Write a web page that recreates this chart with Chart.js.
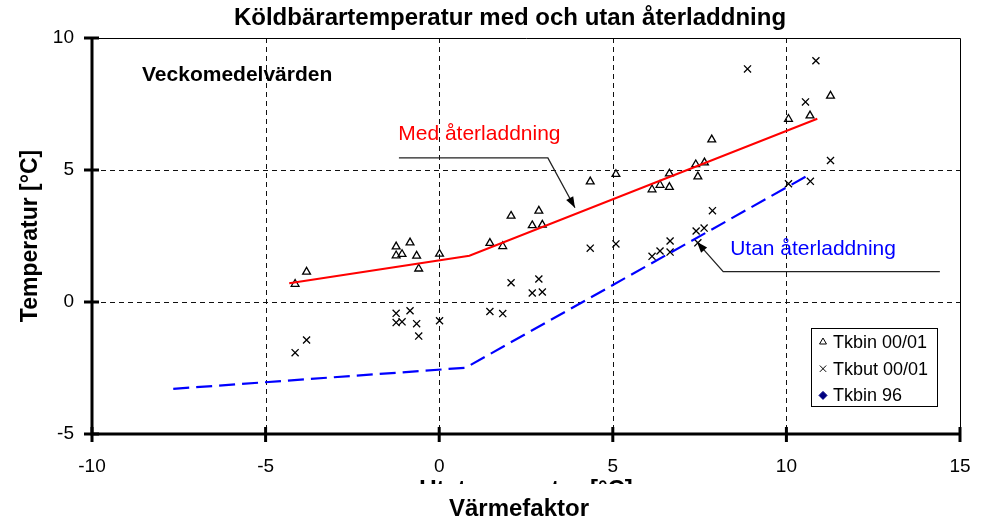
<!DOCTYPE html>
<html>
<head>
<meta charset="utf-8">
<script src="https://cdn.jsdelivr.net/npm/chart.js@4.4.0/dist/chart.umd.min.js"></script>
<style>
body { margin: 0; background: #fff; }
#wrap { width: 988px; height: 522px; }
</style>
</head>
<body>
<div id="wrap"><canvas id="myChart"></canvas></div>
<script>
// weekly means
const tkbinX = [-4.15, -3.82, -1.24, -1.24, -1.07, -0.84, -0.65, -0.59, 0.01, 1.46, 1.83, 2.07, 2.68, 2.87,
                2.97, 4.35, 5.09, 6.13, 6.36, 6.63, 6.63, 7.39, 7.45, 7.64, 7.85, 10.06, 10.68, 11.27];
const tkbinY = [0.68, 1.14, 2.10, 1.76, 1.81, 2.25, 1.75, 1.26, 1.82, 2.23, 2.11, 3.26, 2.90, 3.45,
                2.92, 4.56, 4.84, 4.26, 4.43, 4.86, 4.35, 5.21, 4.75, 5.28, 6.15, 6.93, 7.06, 7.81];
const tkbutX = [-4.15, -3.82, -1.24, -1.24, -1.07, -0.84, -0.65, -0.59, 0.01, 1.46, 1.83, 2.07, 2.68, 2.87, 2.97,
                4.35, 5.09, 6.13, 6.36, 6.65, 6.65, 7.40, 7.45, 7.63, 7.87, 8.88, 10.06, 10.55, 10.69, 10.85, 11.27];
const tkbutY = [-1.92, -1.44, -0.43, -0.78, -0.75, -0.33, -0.82, -1.29, -0.71, -0.36, -0.44, 0.73, 0.34, 0.87, 0.38,
                2.04, 2.20, 1.73, 1.93, 2.31, 1.89, 2.69, 2.24, 2.80, 3.46, 8.83, 4.48, 7.58, 4.57, 9.14, 5.36];
const tkbin96X = [];
const tkbin96Y = [];
const medX = [-4.32, 0.87, 10.89];
const medY = [0.71, 1.75, 6.94];
const utanX = [-7.66, 0.76, 10.56];
const utanY = [-3.29, -2.49, 4.75];
const xTicks = [-10, -5, 0, 5, 10, 15];
const yTicks = [-5, 0, 5, 10];

const FONT = '"Liberation Sans", Arial, sans-serif';

// annotation anchors in data units
const notes = {
    veckoAt: [-8.56, 8.38],
    medAt: [-1.18, 6.15],
    medLeader: [[-1.16, 5.46], [3.13, 5.46], [3.91, 3.57]],
    utanAt: [8.38, 1.78],
    utanLeader: [[14.42, 1.15], [8.18, 1.15], [7.42, 2.28]]
};

function pts(xs, ys) {
    return xs.map((x, i) => ({ x: x, y: ys[i] }));
}

function arrowHead(ctx, x0, y0, x1, y1) {
    const a = Math.atan2(y1 - y0, x1 - x0);
    const len = 11, w = 4;
    ctx.beginPath();
    ctx.moveTo(x1, y1);
    ctx.lineTo(x1 - len * Math.cos(a) + w * Math.sin(a), y1 - len * Math.sin(a) - w * Math.cos(a));
    ctx.lineTo(x1 - len * Math.cos(a) - w * Math.sin(a), y1 - len * Math.sin(a) + w * Math.cos(a));
    ctx.closePath();
    ctx.fill();
}

const decor = {
    id: 'decor',
    beforeDatasetsDraw(chart) {
        const { ctx, chartArea: a, scales: { x, y } } = chart;
        ctx.save();
        ctx.strokeStyle = '#111';
        ctx.lineWidth = 1;
        ctx.setLineDash([5, 4]);
        xTicks.forEach(v => {
            if (v <= x.min || v >= x.max) return;
            const px = Math.round(x.getPixelForValue(v)) + 0.5;
            ctx.beginPath(); ctx.moveTo(px, a.top); ctx.lineTo(px, a.bottom); ctx.stroke();
        });
        yTicks.forEach(v => {
            if (v <= y.min || v >= y.max) return;
            const py = Math.round(y.getPixelForValue(v)) + 0.5;
            ctx.beginPath(); ctx.moveTo(a.left, py); ctx.lineTo(a.right, py); ctx.stroke();
        });
        ctx.setLineDash([]);
        ctx.strokeStyle = '#000';
        ctx.beginPath();
        ctx.moveTo(a.left, a.top + 0.5);
        ctx.lineTo(a.right + 0.5, a.top + 0.5);
        ctx.lineTo(a.right + 0.5, a.bottom);
        ctx.stroke();
        // thick axes with crossing tick marks
        ctx.lineWidth = 3;
        ctx.beginPath();
        ctx.moveTo(a.left, a.top);
        ctx.lineTo(a.left, a.bottom);
        ctx.lineTo(a.right + 1, a.bottom);
        ctx.stroke();
        yTicks.forEach(v => {
            const py = y.getPixelForValue(v);
            ctx.beginPath(); ctx.moveTo(a.left - 8, py); ctx.lineTo(a.left + 7, py); ctx.stroke();
        });
        xTicks.forEach(v => {
            const px = x.getPixelForValue(v);
            ctx.beginPath(); ctx.moveTo(px, a.bottom - 7); ctx.lineTo(px, a.bottom + 8); ctx.stroke();
        });
        ctx.restore();
    },
    afterDraw(chart) {
        const { ctx, chartArea: a, scales: { x, y } } = chart;
        const P = p => [x.getPixelForValue(p[0]), y.getPixelForValue(p[1])];
        ctx.save();

        // title
        ctx.fillStyle = '#000';
        ctx.textAlign = 'center';
        ctx.textBaseline = 'alphabetic';
        ctx.font = 'bold 24px ' + FONT;
        ctx.fillText('Köldbärartemperatur med och utan återladdning', 510, 25);

        // y axis title
        ctx.font = 'bold 23px ' + FONT;
        ctx.save();
        ctx.translate(37, (a.top + a.bottom) / 2);
        ctx.rotate(-Math.PI / 2);
        ctx.fillText('Temperatur [°C]', 0, 0);
        ctx.restore();

        // x axis title, the first one mostly hidden behind the second
        ctx.font = 'bold 24px ' + FONT;
        ctx.fillText('Utetemperatur [°C]', (a.left + a.right) / 2, 497);
        ctx.fillStyle = '#fff';
        ctx.fillRect(380, 484, 300, 38);
        ctx.fillStyle = '#000';
        ctx.fillText('Värmefaktor', 519, 516);

        // in-plot texts
        ctx.textAlign = 'left';
        ctx.font = 'bold 21px ' + FONT;
        let p = P(notes.veckoAt);
        ctx.fillText('Veckomedelvärden', p[0], p[1]);

        ctx.font = '21px ' + FONT;
        ctx.fillStyle = '#ff0000';
        p = P(notes.medAt);
        ctx.fillText('Med återladdning', p[0], p[1]);
        ctx.fillStyle = '#0000ff';
        p = P(notes.utanAt);
        ctx.fillText('Utan återladdning', p[0], p[1]);

        // leaders with arrows
        ctx.strokeStyle = '#222';
        ctx.fillStyle = '#000';
        ctx.lineWidth = 1.3;
        [notes.medLeader, notes.utanLeader].forEach(l => {
            const q = l.map(P);
            ctx.beginPath();
            ctx.moveTo(q[0][0], q[0][1]);
            q.slice(1).forEach(r => ctx.lineTo(r[0], r[1]));
            ctx.stroke();
            const n = q.length;
            arrowHead(ctx, q[n - 2][0], q[n - 2][1], q[n - 1][0], q[n - 1][1]);
        });

        // legend box
        const lx = 811, ly = 328, lw = 126, lh = 78;
        ctx.fillStyle = '#fff';
        ctx.fillRect(lx, ly, lw, lh);
        ctx.strokeStyle = '#000';
        ctx.lineWidth = 1;
        ctx.strokeRect(lx + 0.5, ly + 0.5, lw, lh);
        ctx.font = '18px ' + FONT;
        ctx.textBaseline = 'middle';
        const entries = chart.data.datasets.filter(d => d.inLegend);
        entries.forEach((d, i) => {
            const cy = ly + 14 + i * 26.7;
            ctx.strokeStyle = d.borderColor;
            ctx.fillStyle = d.backgroundColor;
            Chart.helpers.drawPoint(ctx, {
                pointStyle: d.pointStyle, radius: d.legendRadius, rotation: 0, borderWidth: 1.2
            }, lx + 12, cy);
            ctx.fillStyle = '#000';
            ctx.fillText(d.label, lx + 22, cy + 1);
        });
        ctx.restore();
    }
};

const ctx = document.getElementById('myChart').getContext('2d');
const myChart = new Chart(ctx, {
    type: 'scatter',
    data: {
        datasets: [{
            label: 'Med återladdning',
            data: pts(medX, medY),
            showLine: true,
            borderColor: '#ff0000',
            borderWidth: 2,
            pointRadius: 0,
            fill: false
        }, {
            label: 'Utan återladdning',
            data: pts(utanX, utanY),
            showLine: true,
            borderColor: '#0000ff',
            borderWidth: 2.2,
            borderDash: [16, 7],
            pointRadius: 0,
            fill: false
        }, {
            label: 'Tkbin 00/01',
            inLegend: true,
            data: pts(tkbinX, tkbinY),
            pointStyle: 'triangle',
            pointRadius: 4.5,
            legendRadius: 4,
            borderColor: '#000',
            backgroundColor: 'rgba(0,0,0,0)',
            borderWidth: 1.3
        }, {
            label: 'Tkbut 00/01',
            inLegend: true,
            data: pts(tkbutX, tkbutY),
            pointStyle: 'crossRot',
            pointRadius: 5,
            legendRadius: 4.5,
            borderColor: '#000',
            backgroundColor: '#000',
            borderWidth: 1.3
        }, {
            label: 'Tkbin 96',
            inLegend: true,
            data: pts(tkbin96X, tkbin96Y),
            pointStyle: 'rectRot',
            pointRadius: 4,
            legendRadius: 4,
            borderColor: '#000080',
            backgroundColor: '#000080',
            borderWidth: 1
        }]
    },
    options: {
        responsive: true,
        maintainAspectRatio: false,
        animation: false,
        layout: { padding: { left: 0, right: 28, top: 38, bottom: 0 } },
        plugins: { legend: { display: false }, tooltip: { enabled: false } },
        scales: {
            x: {
                type: 'linear',
                min: -10,
                max: 15,
                afterBuildTicks: s => { s.ticks = xTicks.map(v => ({ value: v })); },
                afterFit: s => { s.height = 88; s.paddingLeft = 0; s.paddingRight = 0; },
                grid: { display: false, drawTicks: false },
                border: { display: false },
                ticks: { color: '#000', padding: 21, font: { family: FONT, size: 19 } }
            },
            y: {
                type: 'linear',
                min: -5,
                max: 10,
                afterBuildTicks: s => { s.ticks = yTicks.map(v => ({ value: v })); },
                afterFit: s => { s.width = 92; s.paddingTop = 0; s.paddingBottom = 0; },
                grid: { display: false, drawTicks: false },
                border: { display: false },
                ticks: { color: '#000', padding: 18, font: { family: FONT, size: 19 } }
            }
        }
    },
    plugins: [decor]
});
</script>
</body>
</html>
